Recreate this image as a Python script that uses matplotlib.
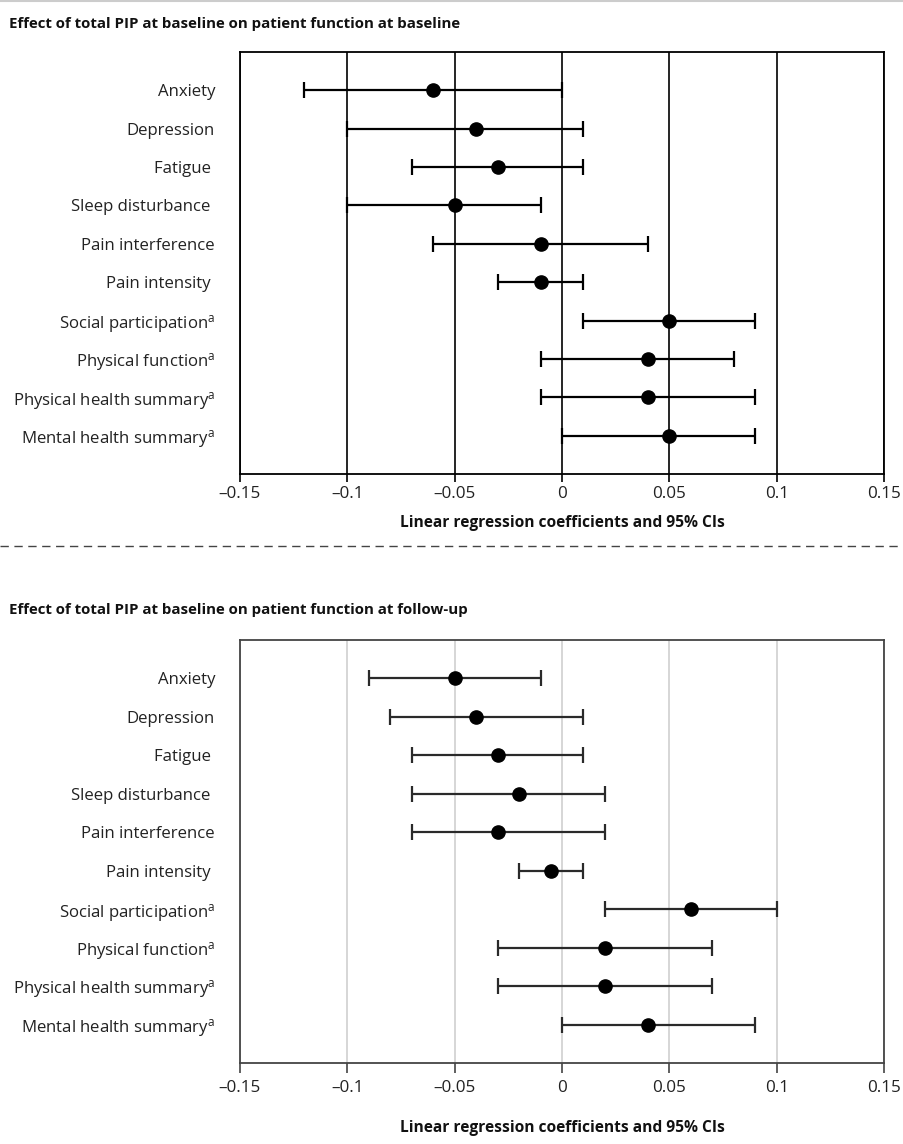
import matplotlib
matplotlib.use("Agg")
import matplotlib.pyplot as plt
from matplotlib.lines import Line2D
from matplotlib.ticker import FixedLocator, FuncFormatter

plt.rcParams["font.family"] = ["Open Sans", "DejaVu Sans"]
plt.rcParams["mathtext.fontset"] = "custom"
plt.rcParams["mathtext.rm"] = "Open Sans"
plt.rcParams["mathtext.it"] = "Open Sans"

# Outcome measures (superscript a marks higher-is-better scales)
outcomes = [
    "Anxiety",
    "Depression",
    "Fatigue ",
    "Sleep disturbance ",
    "Pain interference",
    "Pain intensity ",
    "Social participation$^{\\mathrm{a}}$",
    "Physical function$^{\\mathrm{a}}$",
    "Physical health summary$^{\\mathrm{a}}$",
    "Mental health summary$^{\\mathrm{a}}$",
]

# Baseline PIP -> baseline function
base_coef = [-0.06, -0.04, -0.03, -0.05, -0.01, -0.01, 0.05, 0.04, 0.04, 0.05]
base_low = [-0.12, -0.10, -0.07, -0.10, -0.06, -0.03, 0.01, -0.01, -0.01, 0.00]
base_high = [0.00, 0.01, 0.01, -0.01, 0.04, 0.01, 0.09, 0.08, 0.09, 0.09]

# Baseline PIP -> follow-up function
fu_coef = [-0.05, -0.04, -0.03, -0.02, -0.03, -0.005, 0.06, 0.02, 0.02, 0.04]
fu_low = [-0.09, -0.08, -0.07, -0.07, -0.07, -0.02, 0.02, -0.03, -0.03, 0.00]
fu_high = [-0.01, 0.01, 0.01, 0.02, 0.02, 0.01, 0.10, 0.07, 0.07, 0.09]

x_ticks = [-0.15, -0.1, -0.05, 0, 0.05, 0.1, 0.15]
x_label = "Linear regression coefficients and 95% CIs"
titles = [
    "Effect of total PIP at baseline on patient function at baseline",
    "Effect of total PIP at baseline on patient function at follow-up",
]

W, H = 904, 1144
fig = plt.figure(figsize=(W / 100, H / 100), dpi=100)


def fmt_tick(v, _pos):
    s = f"{v:g}"
    return s.replace("-", "\u2013")


def forest(ax, coef, low, high, grid_color, spine_color, bar_color,
           tick_len, tick_pad, label_pad):
    ypos = list(range(1, len(outcomes) + 1))
    xerr = [[c - l for c, l in zip(coef, low)], [h - c for c, h in zip(coef, high)]]
    for t in x_ticks:
        ax.axvline(t, color=grid_color, lw=1.2, zorder=1)
    ax.errorbar(coef, ypos, xerr=xerr, fmt="none", ecolor=bar_color,
                elinewidth=1.6, capsize=5.5, capthick=1.6, zorder=2)
    ax.plot(coef, ypos, "o", color="black", ms=9.5, zorder=3)
    ax.set_xlim(-0.15, 0.15)
    ax.set_ylim(len(outcomes) + 1, 0)
    ax.xaxis.set_major_locator(FixedLocator(x_ticks))
    ax.xaxis.set_major_formatter(FuncFormatter(fmt_tick))
    ax.set_yticks(ypos)
    ax.set_yticklabels(outcomes)
    ax.tick_params(axis="y", length=0, pad=18, labelsize=12.1, colors="#222222")
    ax.tick_params(axis="x", length=tick_len, width=1.2, direction="out",
                   pad=tick_pad, labelsize=12.3, colors="#222222",
                   color=spine_color)
    for sp in ax.spines.values():
        sp.set_color(spine_color)
        sp.set_linewidth(1.3)
    ax.set_xlabel(x_label, fontsize=11.2, fontweight="bold",
                  labelpad=label_pad, color="#111111")


ax1 = fig.add_axes([240 / W, 1 - 474 / H, 644 / W, 422 / H])
forest(ax1, base_coef, base_low, base_high, "black", "black", "black",
       tick_len=6, tick_pad=3, label_pad=9)

ax2 = fig.add_axes([240 / W, 1 - 1063 / H, 644 / W, 423 / H])
forest(ax2, fu_coef, fu_low, fu_high, "#cfcfcf", "#444444", "#2a2a2a",
       tick_len=7.5, tick_pad=5, label_pad=17)

fig.text(9 / W, 1 - 24 / H, titles[0], fontsize=10.8, fontweight="bold",
         va="center", ha="left", color="#111111")
fig.text(9 / W, 1 - 610 / H, titles[1], fontsize=10.8, fontweight="bold",
         va="center", ha="left", color="#111111")

# thin rule at the top and dashed separator between panels
fig.add_artist(Line2D([0, 1], [1 - 1 / H, 1 - 1 / H], color="#cccccc", lw=1.5))
fig.add_artist(Line2D([0, 1], [1 - 546 / H, 1 - 546 / H], color="#444444",
                      lw=1.0, dashes=(6, 4)))

fig.savefig("out.png", dpi=100)
